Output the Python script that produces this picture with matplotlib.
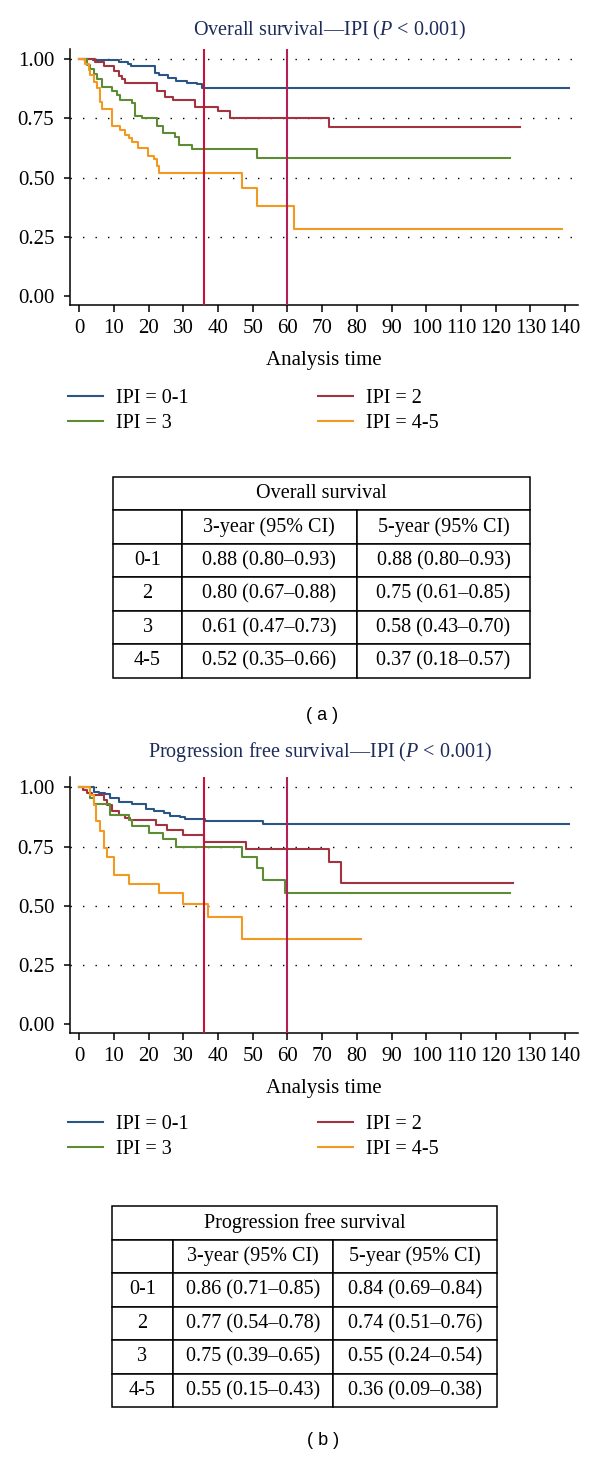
import matplotlib
matplotlib.use("Agg")
import matplotlib.pyplot as plt

# Data (time in months, survival probability)
# (a) Overall survival
os_t_01 = [0, 4, 11.3, 14, 15, 21.9, 23, 25.7, 28, 31, 34, 35.3, 141]
os_s_01 = [1.0, 0.995, 0.99, 0.98, 0.97, 0.943, 0.935, 0.92, 0.91, 0.90, 0.895, 0.88, 0.88]
os_t_2 = [0, 4.6, 7, 10, 11.3, 12.3, 13.2, 22.3, 24.7, 27.1, 33.4, 40, 43.4, 72, 127]
os_s_2 = [1.0, 0.99, 0.97, 0.95, 0.93, 0.915, 0.90, 0.865, 0.84, 0.83, 0.80, 0.78, 0.752, 0.712, 0.712]
os_t_3 = [0, 2.2, 3, 4.1, 5.1, 6.5, 9.4, 10.8, 11.8, 15.1, 16.1, 18, 22.3, 24.2, 27.6, 28.6, 32.4, 51.1, 124]
os_s_3 = [1.0, 0.976, 0.96, 0.94, 0.915, 0.885, 0.865, 0.85, 0.83, 0.815, 0.76, 0.75, 0.717, 0.69, 0.67, 0.64, 0.62, 0.584, 0.584]
os_t_45 = [0, 1.7, 2.7, 3.2, 4.1, 5.1, 6, 6.5, 9.4, 11.8, 13.2, 14.2, 15.1, 17, 19.9, 21.4, 22.3, 23.1, 47, 51.1, 62, 139]
os_s_45 = [1.0, 0.98, 0.955, 0.935, 0.906, 0.88, 0.82, 0.79, 0.72, 0.70, 0.68, 0.667, 0.65, 0.625, 0.59, 0.577, 0.55, 0.52, 0.457, 0.38, 0.285, 0.285]

# (b) Progression free survival
pfs_t_01 = [0, 4.1, 5.6, 7.5, 8.9, 11.3, 15.1, 19.3, 21.4, 24.3, 26.2, 29, 30.5, 36.2, 53, 141]
pfs_s_01 = [1.0, 0.982, 0.975, 0.97, 0.955, 0.937, 0.93, 0.91, 0.90, 0.89, 0.88, 0.874, 0.866, 0.856, 0.845, 0.845]
pfs_t_2 = [0, 1, 2.2, 3.6, 7, 8, 9.4, 11.3, 13.2, 14.7, 22.1, 25.2, 30, 36, 47.9, 72, 75.3, 125]
pfs_s_2 = [1.0, 0.99, 0.978, 0.968, 0.947, 0.926, 0.898, 0.884, 0.87, 0.863, 0.842, 0.82, 0.80, 0.77, 0.74, 0.683, 0.596, 0.596]
pfs_t_3 = [0, 3, 4.1, 8.9, 14.2, 15.1, 20.2, 24, 28, 47, 51.1, 53, 59.3, 124]
pfs_s_3 = [1.0, 0.955, 0.93, 0.884, 0.863, 0.835, 0.806, 0.78, 0.75, 0.705, 0.66, 0.61, 0.553, 0.553]
pfs_t_45 = [0, 3.2, 4.1, 4.9, 6, 7, 8, 9.9, 14.2, 23, 30, 37.2, 47, 81.3]
pfs_s_45 = [1.0, 0.968, 0.926, 0.856, 0.814, 0.744, 0.705, 0.63, 0.593, 0.553, 0.507, 0.451, 0.36, 0.36]

group_labels = ["IPI = 0-1", "IPI = 2", "IPI = 3", "IPI = 4-5"]
marker_times = [36, 60]
x_ticks = list(range(0, 141, 10))
y_ticks = [0.0, 0.25, 0.5, 0.75, 1.0]

# Tables
table_rows = ["0-1", "2", "3", "4-5"]
table_header = ["", "3-year (95% CI)", "5-year (95% CI)"]
os_3y = ["0.88 (0.80\u20130.93)", "0.80 (0.67\u20130.88)", "0.61 (0.47\u20130.73)", "0.52 (0.35\u20130.66)"]
os_5y = ["0.88 (0.80\u20130.93)", "0.75 (0.61\u20130.85)", "0.58 (0.43\u20130.70)", "0.37 (0.18\u20130.57)"]
pfs_3y = ["0.86 (0.71\u20130.85)", "0.77 (0.54\u20130.78)", "0.75 (0.39\u20130.65)", "0.55 (0.15\u20130.43)"]
pfs_5y = ["0.84 (0.69\u20130.84)", "0.74 (0.51\u20130.76)", "0.55 (0.24\u20130.54)", "0.36 (0.09\u20130.38)"]

colors = ["#2b5584", "#a3343f", "#5e8c35", "#f29a1f"]
vline_colors = ["#c8123c", "#b41f58"]

plt.rcParams["font.family"] = ["Liberation Serif", "DejaVu Serif"]
plt.rcParams["mathtext.fontset"] = "custom"
plt.rcParams["mathtext.rm"] = "Liberation Serif"
plt.rcParams["mathtext.it"] = "Liberation Serif:italic"

W, H = 600, 1458
fig = plt.figure(figsize=(W / 100, H / 100), dpi=100)


# prevod pixelu na souradnice obrazku
def px_box(left, top, right, bottom):
    return [left / W, 1 - bottom / H, (right - left) / W, (bottom - top) / H]


def draw_panel(top, zero_y, one_y, bottom, title, title_x, title_y, curves, leg_y):
    ax = fig.add_axes(px_box(70.3, top, 578.3, bottom))
    unit = zero_y - one_y
    ax.set_ylim(-(bottom - zero_y) / unit, 1 + (one_y - top) / unit)
    ax.set_xlim(-2.59, 143.8)

    # tečkované vodorovné čáry
    for yv in y_ticks[1:]:
        ax.axhline(yv, color="black", lw=1.0, linestyle=(0, (1, 8)), zorder=1)

    for xv, c in zip(marker_times, vline_colors):
        ax.axvline(xv, color=c, lw=1.5, zorder=3)

    handles = []
    for (t, s), c, lab in zip(curves, colors, group_labels):
        ln, = ax.step(t, s, where="post", color=c, lw=1.5, label=lab, zorder=2)
        handles.append(ln)

    ax.spines["top"].set_visible(False)
    ax.spines["right"].set_visible(False)
    ax.spines["left"].set_linewidth(1.1)
    ax.spines["bottom"].set_linewidth(1.1)
    ax.set_xticks(x_ticks)
    ax.set_yticks(y_ticks)
    ax.set_yticklabels(["%.2f" % v for v in y_ticks])
    ax.tick_params(axis="y", length=4.5, width=1.1, pad=7, labelsize=15)
    ax.tick_params(axis="x", length=5, width=1.1, pad=5, labelsize=15)
    ax.set_xlabel("Analysis time", fontsize=15, va="center")
    ax.xaxis.set_label_coords(0.5, -(360 - 305) / (305 - 49.3))

    fig.text(title_x / W, 1 - title_y / H, title, fontsize=14.5, color="#1d2b5b",
             ha="center", va="center")

    # legenda ve dvou sloupcich
    order = [0, 2, 1, 3]
    ax.legend([handles[i] for i in order], [group_labels[i] for i in order],
              loc="upper left", bbox_to_anchor=(68 / W, 1 - leg_y / H),
              bbox_transform=fig.transFigure, ncol=2, frameon=False,
              fontsize=14.5, handlelength=1.75, handletextpad=0.65,
              columnspacing=6.4, labelspacing=0.3, borderpad=0, borderaxespad=0)
    return ax


def draw_table(left, top, right, bottom, col_edges, title, col3, col5):
    tax = fig.add_axes(px_box(left, top, right, bottom))
    tax.axis("off")
    width = right - left
    widths = [(col_edges[0] - left) / width, (col_edges[1] - col_edges[0]) / width,
              (right - col_edges[1]) / width]
    t1 = tax.table(cellText=[[title]], cellLoc="center", bbox=[0, 5 / 6, 1, 1 / 6])
    body = [table_header] + [[r, a, b] for r, a, b in zip(table_rows, col3, col5)]
    t2 = tax.table(cellText=body, colWidths=widths, cellLoc="center", bbox=[0, 0, 1, 5 / 6])
    for t in (t1, t2):
        t.auto_set_font_size(False)
        t.set_fontsize(14.5)
        for cell in t.get_celld().values():
            cell.set_linewidth(1.1)
            cell.set_edgecolor("black")


draw_panel(49.3, 296, 59.3, 305, "Overall survival\u2014IPI ($P$ < 0.001)", 330, 30,
           [(os_t_01, os_s_01), (os_t_2, os_s_2), (os_t_3, os_s_3), (os_t_45, os_s_45)], 389)
draw_table(113.3, 476.7, 530, 677.7, [181.7, 357], "Overall survival", os_3y, os_5y)
fig.text(321.7 / W, 1 - 715 / H, "( a )", fontsize=13, family="Liberation Sans",
         ha="center", va="center")

draw_panel(777.3, 1024.3, 787.3, 1033.3, "Progression free survival\u2014IPI ($P$ < 0.001)", 320, 752,
           [(pfs_t_01, pfs_s_01), (pfs_t_2, pfs_s_2), (pfs_t_3, pfs_s_3), (pfs_t_45, pfs_s_45)], 1115)
draw_table(112.3, 1206, 497.3, 1407.3, [172.7, 333.3], "Progression free survival", pfs_3y, pfs_5y)
fig.text(322.7 / W, 1 - 1440.7 / H, "( b )", fontsize=13, family="Liberation Sans",
         ha="center", va="center")

fig.savefig("out.png", dpi=100)
